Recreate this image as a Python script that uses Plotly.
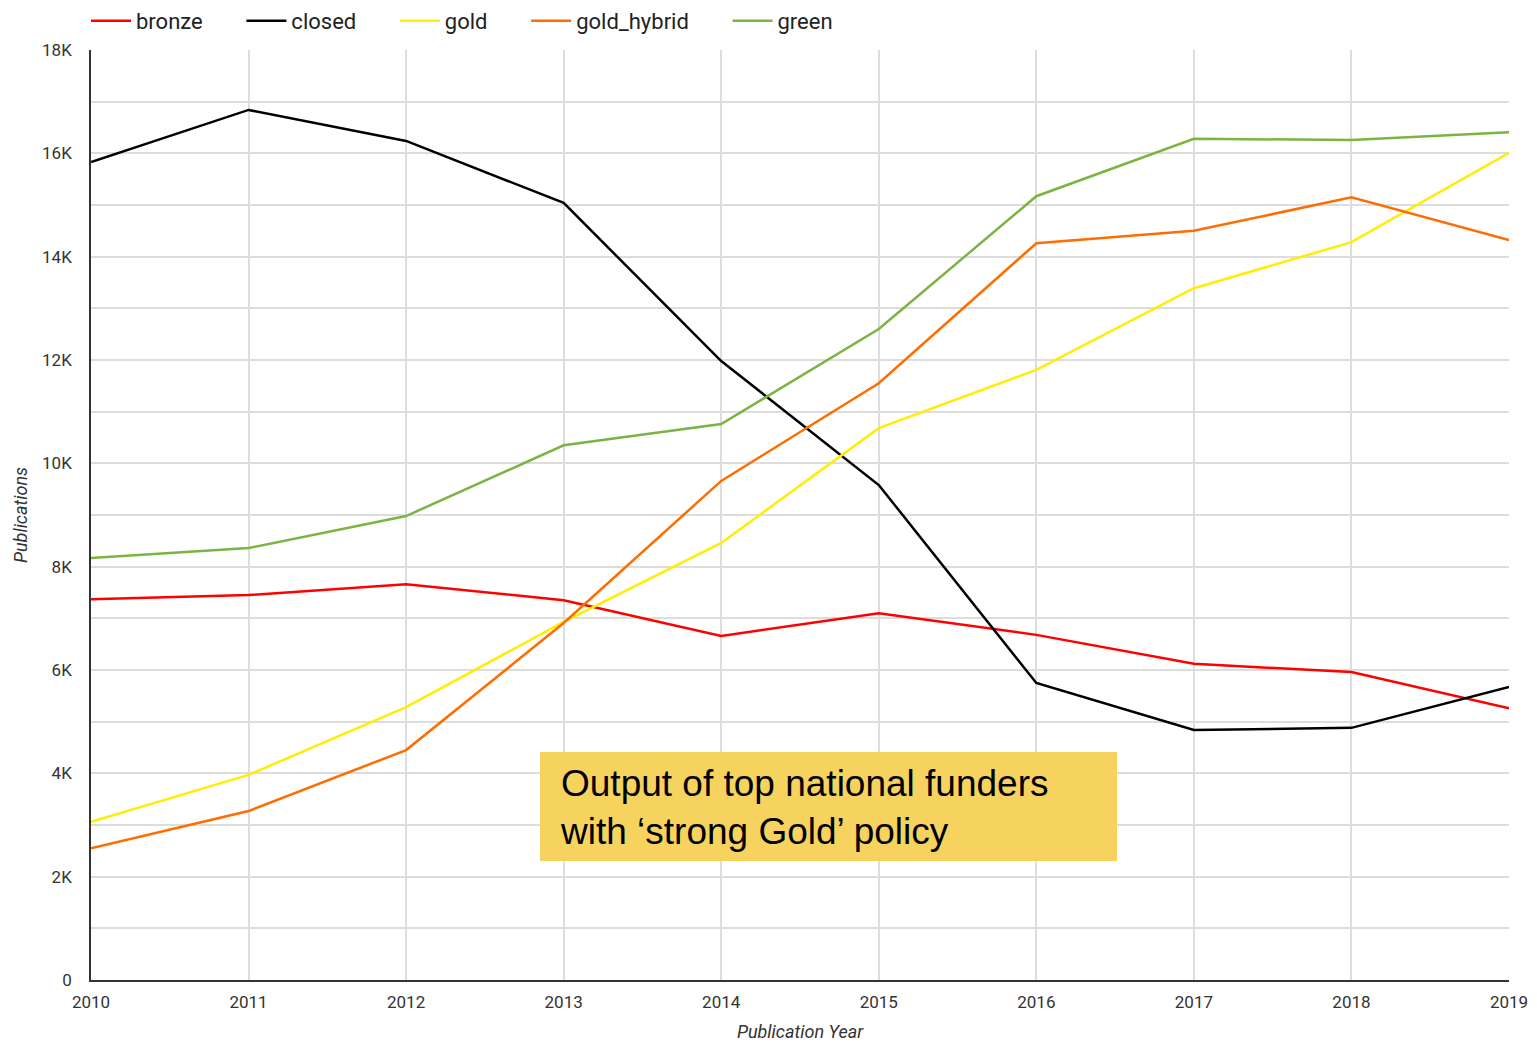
import plotly.graph_objects as go

years = [2010, 2011, 2012, 2013, 2014, 2015, 2016, 2017, 2018, 2019]
bronze = [7370, 7450, 7660, 7350, 6660, 7100, 6680, 6120, 5960, 5260]
closed = [15830, 16840, 16240, 15040, 11980, 9580, 5750, 4840, 4880, 5670]
gold = [3060, 3970, 5280, 6930, 8460, 10680, 11810, 13390, 14280, 16010]
gold_hybrid = [2550, 3270, 4450, 6910, 9660, 11550, 14260, 14500, 15150, 14320]
green = [8170, 8360, 8980, 10350, 10760, 12600, 15170, 16280, 16260, 16410]

series = [
    ("bronze", bronze, "#ff0000"),
    ("closed", closed, "#000000"),
    ("gold", gold, "#ffee00"),
    ("gold_hybrid", gold_hybrid, "#ff6d01"),
    ("green", green, "#7cb342"),
]

y_tickvals = [0, 2000, 4000, 6000, 8000, 10000, 12000, 14000, 16000, 18000]
y_ticktext = ["0", "2K", "4K", "6K", "8K", "10K", "12K", "14K", "16K", "18K"]

W, H = 1537, 1044
L, R, T, B = 91, 28, 50, 64
pw, ph = W - L - R, H - T - B

def px(x):
    return (x - L) / pw

def py(y):
    return (H - B - y) / ph

fig = go.Figure()
for name, vals, col in series:
    fig.add_trace(go.Scatter(x=years, y=vals, name=name + "\u2003\u2002", mode="lines",
                             line=dict(color=col, width=2.5)))

fig.update_layout(
    width=W, height=H,
    margin=dict(l=L, r=R, t=T, b=B, autoexpand=False),
    plot_bgcolor="white", paper_bgcolor="white",
    font=dict(family="Roboto", size=17, color="#333333"),
    legend=dict(orientation="h", xref="container", yref="container",
                x=(L - 5) / W, y=1.0, xanchor="left", yanchor="top",
                font=dict(size=22, color="#222222"), itemwidth=40),
    showlegend=True,
)
fig.update_xaxes(range=[2010, 2019], tickvals=years, ticktext=[str(y) for y in years],
                 showgrid=True, gridcolor="#dddddd", gridwidth=2,
                 showline=True, linecolor="#333333", linewidth=1.5,
                 zeroline=False, ticks="", ticklabelstandoff=6,
                 title=dict(text="<i>Publication Year</i>", font=dict(size=18, color="#333333"), standoff=14))
fig.update_yaxes(range=[0, 18000], tickvals=y_tickvals, ticktext=y_ticktext,
                 showgrid=True, gridcolor="#dddddd", gridwidth=2,
                 minor=dict(dtick=1000, tick0=0, showgrid=True, gridcolor="#dddddd", gridwidth=2),
                 showline=True, linecolor="#333333", linewidth=1.5,
                 zeroline=False, ticks="", ticklabelstandoff=14,
                 title=dict(text="<i>Publications</i>", font=dict(size=18, color="#333333"), standoff=10))

fig.add_shape(type="rect", xref="paper", yref="paper",
              x0=px(540), x1=px(1117), y0=py(861), y1=py(752),
              fillcolor="#f6d35e", line=dict(width=0), layer="above")
fig.add_annotation(xref="paper", yref="paper",
                   x=px(558), y=py(807),
                   xanchor="left", yanchor="middle",
                   text="Output of top national funders<br>with ‘strong Gold’ policy",
                   showarrow=False, align="left",
                   font=dict(family="Liberation Sans, Arial", size=37, color="#000000"))

fig.write_html("out.html")
